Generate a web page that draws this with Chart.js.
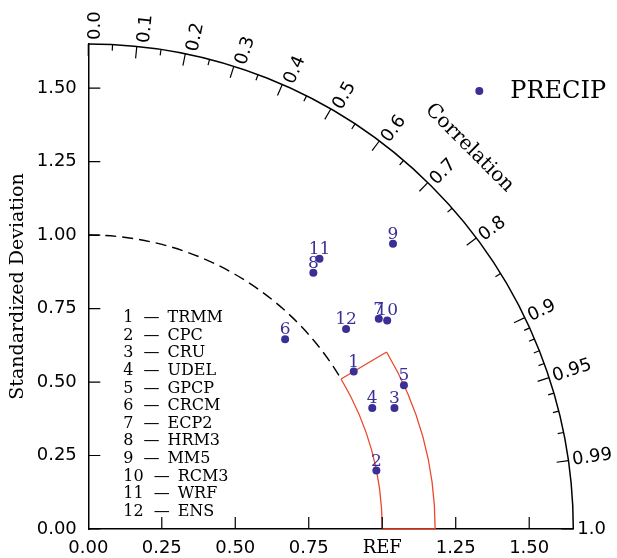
<!DOCTYPE html>
<html>
<head>
<meta charset="utf-8">
<title>Taylor diagram - PRECIP</title>
<script src="https://cdn.jsdelivr.net/npm/chart.js@4.4.1/dist/chart.umd.min.js"></script>
<style>
  html, body { margin: 0; padding: 0; background: #fff; }
</style>
</head>
<body>
<canvas id="taylorChart" width="617" height="558"></canvas>
<script>
// data
var models  = ["TRMM", "CPC", "CRU", "UDEL", "GPCP", "CRCM", "ECP2", "HRM3", "MM5", "RCM3", "WRF", "ENS"];
var stdDev  = [1.05, 1.00, 1.12, 1.05, 1.18, 0.93, 1.22, 1.16, 1.42, 1.24, 1.21, 1.11];
var corrVal = [0.86, 0.98, 0.93, 0.92, 0.91, 0.72, 0.81, 0.66, 0.73, 0.82, 0.65, 0.79];

var stdTicks   = [0, 0.25, 0.5, 0.75, 1, 1.25, 1.5];
var corrMajor  = [0, 0.1, 0.2, 0.3, 0.4, 0.5, 0.6, 0.7, 0.8, 0.9, 0.95, 0.99, 1.0];
var corrLabels = ["0.0", "0.1", "0.2", "0.3", "0.4", "0.5", "0.6", "0.7", "0.8", "0.9", "0.95", "0.99", "1.0"];
var corrMinor  = [0.05, 0.15, 0.25, 0.35, 0.45, 0.55, 0.65, 0.75, 0.85, 0.91, 0.92, 0.93, 0.94, 0.96, 0.97, 0.98];

var stdMax  = 1.65;
var refStd  = 1.0;
var boxStd  = [1.0, 1.18];   // observation range (red box)
var boxCorr = [0.86, 1.0];

var BLUE = "#3a2f96";
var RED  = "#ea472b";
var SERIF = "'DejaVu Serif', serif";
var SANS  = "'DejaVu Sans', sans-serif";

var points = stdDev.map(function (s, i) {
    var c = corrVal[i];
    return { x: s * c, y: s * Math.sqrt(1 - c * c) };
});

var taylorPlugin = {
    id: 'taylor',
    beforeDatasetsDraw: function (chart) {
        var ctx = chart.ctx;
        var xs = chart.scales.x, ys = chart.scales.y;
        var ox = xs.getPixelForValue(0), oy = ys.getPixelForValue(0);
        var R = function (v) { return xs.getPixelForValue(v) - ox; };
        var Rm = R(stdMax);
        var th0 = Math.acos(boxCorr[0]);

        ctx.save();
        // outer correlation arc
        ctx.strokeStyle = '#000';
        ctx.lineWidth = 1.5;
        ctx.beginPath();
        ctx.arc(ox, oy, Rm, -Math.PI / 2, 0);
        ctx.stroke();

        // dashed reference arc
        ctx.lineWidth = 1.4;
        ctx.setLineDash([11, 6]);
        ctx.beginPath();
        ctx.arc(ox, oy, R(refStd), -Math.PI / 2, -th0);
        ctx.stroke();
        ctx.setLineDash([]);

        // red observation box
        ctx.strokeStyle = RED;
        ctx.lineWidth = 1.3;
        ctx.beginPath();
        ctx.arc(ox, oy, R(boxStd[0]), -th0, 0);
        ctx.stroke();
        ctx.beginPath();
        ctx.arc(ox, oy, R(boxStd[1]), -th0, 0);
        ctx.stroke();
        ctx.beginPath();
        ctx.moveTo(ox + R(boxStd[0]) * Math.cos(th0), oy - R(boxStd[0]) * Math.sin(th0));
        ctx.lineTo(ox + R(boxStd[1]) * Math.cos(th0), oy - R(boxStd[1]) * Math.sin(th0));
        ctx.moveTo(ox + R(boxStd[0]), oy);
        ctx.lineTo(ox + R(boxStd[1]), oy);
        ctx.stroke();

        // inward std ticks
        ctx.strokeStyle = '#000';
        ctx.lineWidth = 1.2;
        ctx.beginPath();
        stdTicks.forEach(function (v) {
            var px = xs.getPixelForValue(v), py = ys.getPixelForValue(v);
            if (v > 0) { ctx.moveTo(px, oy); ctx.lineTo(px, oy - 12); }
            ctx.moveTo(ox, py); ctx.lineTo(ox + 12, py);
        });
        ctx.stroke();

        // correlation ticks
        ctx.beginPath();
        corrMajor.forEach(function (c) {
            var t = Math.acos(c);
            ctx.moveTo(ox + Rm * Math.cos(t), oy - Rm * Math.sin(t));
            ctx.lineTo(ox + (Rm - 12) * Math.cos(t), oy - (Rm - 12) * Math.sin(t));
        });
        corrMinor.forEach(function (c) {
            var t = Math.acos(c);
            ctx.moveTo(ox + Rm * Math.cos(t), oy - Rm * Math.sin(t));
            ctx.lineTo(ox + (Rm - 6) * Math.cos(t), oy - (Rm - 6) * Math.sin(t));
        });
        ctx.stroke();

        // correlation labels
        ctx.fillStyle = '#000';
        ctx.font = '18px ' + SANS;
        ctx.textAlign = 'left';
        ctx.textBaseline = 'middle';
        corrMajor.forEach(function (c, i) {
            var t = Math.acos(c);
            var s = Math.sin(t);
            ctx.save();
            ctx.translate(ox, oy);
            ctx.rotate(-t);
            ctx.fillText(corrLabels[i], Rm + 4, 7 * s * s);
            ctx.restore();
        });

        // "Correlation" title
        var tt = Math.PI / 4;
        ctx.save();
        ctx.translate(ox + (Rm + 54) * Math.cos(tt), oy - (Rm + 54) * Math.sin(tt));
        ctx.rotate(Math.PI / 2 - tt);
        ctx.font = '20px ' + SERIF;
        ctx.textAlign = 'center';
        ctx.fillText('Correlation', 0, 0);
        ctx.restore();
        ctx.restore();
    },
    afterDatasetsDraw: function (chart) {
        var ctx = chart.ctx;
        var area = chart.chartArea;
        var meta = chart.getDatasetMeta(0);
        ctx.save();

        // point numbers
        ctx.fillStyle = BLUE;
        ctx.font = '17px ' + SERIF;
        ctx.textAlign = 'center';
        ctx.textBaseline = 'alphabetic';
        meta.data.forEach(function (el, i) {
            ctx.fillText(String(i + 1), el.x, el.y - 5);
        });

        // model key
        ctx.font = '16px ' + SERIF;
        ctx.fillStyle = '#000';
        ctx.textAlign = 'left';
        ctx.textBaseline = 'middle';
        var x0 = area.left + 35, y0 = area.top + 274;
        models.forEach(function (m, i) {
            var y = y0 + i * 17.6;
            var num = String(i + 1);
            var w = ctx.measureText(num).width;
            ctx.fillText(num, x0, y);
            ctx.fillText('\u2014', x0 + w + 10, y);
            ctx.fillText(m, x0 + w + 34, y);
        });

        // series legend
        ctx.fillStyle = BLUE;
        ctx.beginPath();
        ctx.arc(area.left + 391, area.top + 47, 4, 0, Math.PI * 2);
        ctx.fill();
        ctx.fillStyle = '#000';
        ctx.font = '24px ' + SERIF;
        ctx.fillText(chart.data.datasets[0].label, area.left + 422, area.top + 48);
        ctx.restore();
    }
};

new Chart(document.getElementById('taylorChart'), {
    type: 'scatter',
    data: {
        datasets: [{
            label: 'PRECIP',
            data: points,
            pointRadius: 4,
            pointHoverRadius: 4,
            pointBackgroundColor: BLUE,
            pointBorderWidth: 0
        }]
    },
    options: {
        responsive: false,
        animation: false,
        devicePixelRatio: 1,
        layout: { padding: { top: 44, right: 43.7, left: 0, bottom: 0 } },
        plugins: {
            legend: { display: false },
            tooltip: { enabled: false }
        },
        scales: {
            x: {
                type: 'linear',
                min: 0,
                max: stdMax,
                afterBuildTicks: function (s) { s.ticks = stdTicks.map(function (v) { return { value: v }; }); },
                afterFit: function (s) { s.height = 29; },
                grid: { display: false, drawTicks: false },
                border: { display: true, color: '#000', width: 1.5 },
                ticks: {
                    padding: 9,
                    color: '#000',
                    maxRotation: 0,
                    font: function (c) {
                        return (c.tick && c.tick.value === refStd) ? { family: SERIF, size: 18 } : { family: SANS, size: 18 };
                    },
                    callback: function (v) { return v === refStd ? 'REF' : Number(v).toFixed(2); }
                }
            },
            y: {
                type: 'linear',
                min: 0,
                max: stdMax,
                afterBuildTicks: function (s) { s.ticks = stdTicks.map(function (v) { return { value: v }; }); },
                afterFit: function (s) { s.width = 88.3; },
                grid: { display: false, drawTicks: false },
                border: { display: true, color: '#000', width: 1.5 },
                ticks: {
                    padding: 11.5,
                    color: '#000',
                    font: { family: SANS, size: 18 },
                    callback: function (v) { return Number(v).toFixed(2); }
                },
                title: {
                    display: true,
                    text: 'Standardized Deviation',
                    color: '#000',
                    font: { family: SERIF, size: 19, weight: 'normal' },
                    padding: { top: 6.6, bottom: 0 }
                }
            }
        }
    },
    plugins: [taylorPlugin]
});
</script>
</body>
</html>
